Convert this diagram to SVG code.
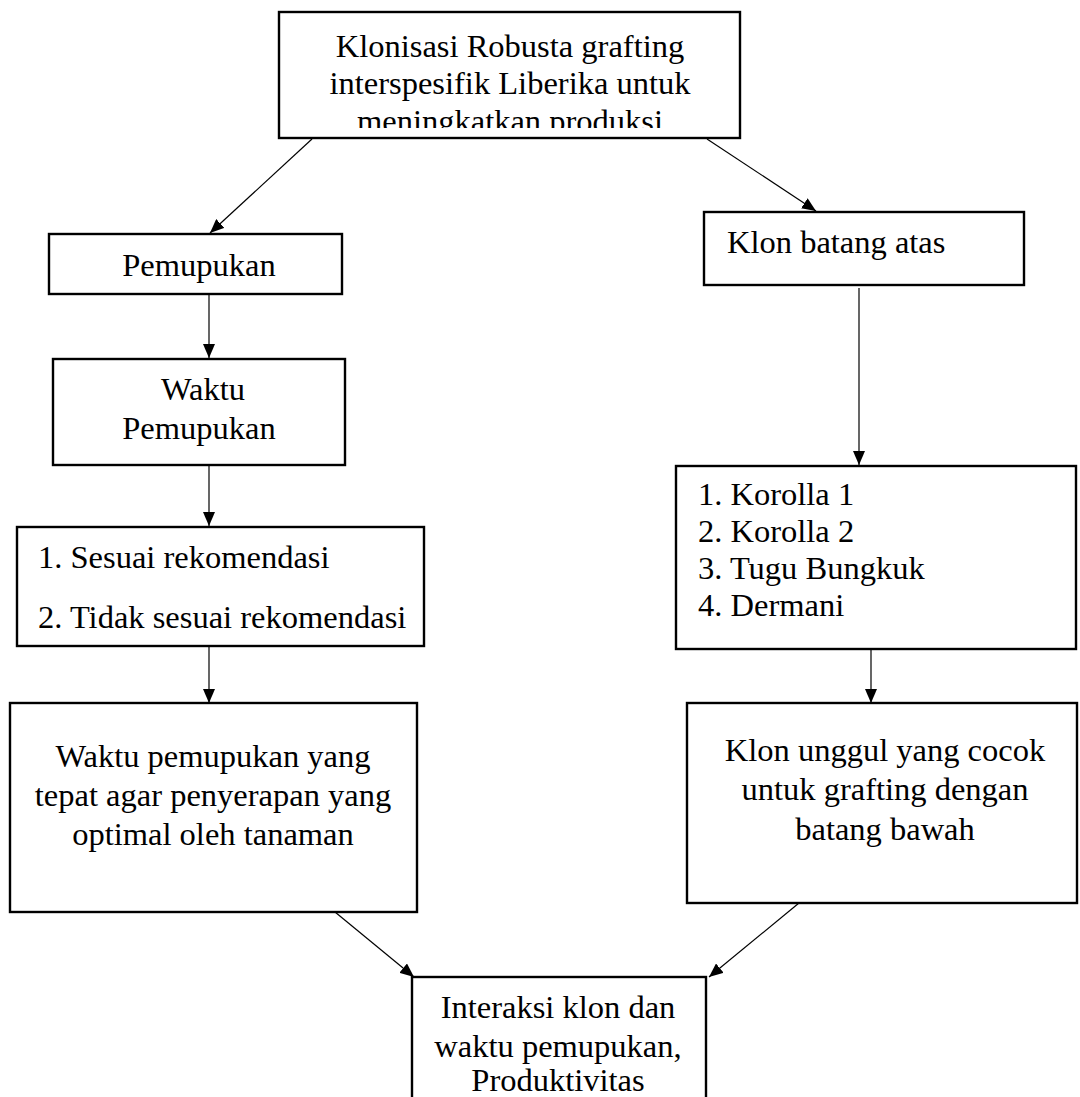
<svg xmlns="http://www.w3.org/2000/svg" width="1080" height="1097" viewBox="0 0 1080 1097">
<style>
.box{fill:#fff;stroke:#000;stroke-width:2.4}
.t{font-family:"Liberation Serif","Times New Roman",serif;font-size:32.5px;fill:#000}
.c{text-anchor:middle}
.conn line{stroke:#000;stroke-width:1.2;marker-end:url(#ah)}
</style>
<defs>
<marker id="ah" viewBox="0 0 14 12" refX="14" refY="6" markerWidth="14" markerHeight="12" markerUnits="userSpaceOnUse" orient="auto">
<path d="M0,0 L14,6 L0,12 Z" fill="#000"/>
</marker>
<clipPath id="topclip"><rect x="280" y="13" width="459" height="115"/></clipPath>
</defs>
<rect width="1080" height="1097" fill="#fff"/>
<g id="connectors" class="conn">
<line x1="312" y1="139" x2="210" y2="233"/>
<line x1="707" y1="139" x2="816" y2="211"/>
<line x1="209" y1="295" x2="209" y2="358"/>
<line x1="209" y1="460" x2="209" y2="526"/>
<line x1="209" y1="641" x2="209" y2="703"/>
<line x1="859" y1="288" x2="859" y2="465"/>
<line x1="871" y1="650" x2="871" y2="703"/>
<line x1="335" y1="912" x2="414" y2="977"/>
<line x1="799" y1="903" x2="709" y2="977"/>
</g>
<g id="n-top">
<rect class="box" x="279" y="12" width="461" height="126"/>
<g clip-path="url(#topclip)">
<text class="t c" x="510" y="57">Klonisasi Robusta grafting</text>
<text class="t c" x="510" y="94">interspesifik Liberika untuk</text>
<text class="t c" x="510" y="132">meningkatkan produksi</text>
</g>
</g>
<g id="n-pemupukan">
<rect class="box" x="49" y="234" width="293" height="60"/>
<text class="t c" x="199" y="276">Pemupukan</text>
</g>
<g id="n-waktu">
<rect class="box" x="53" y="359" width="292" height="106"/>
<text class="t c" x="203" y="400">Waktu</text>
<text class="t c" x="199" y="439">Pemupukan</text>
</g>
<g id="n-sesuai">
<rect class="box" x="17" y="527" width="407" height="119"/>
<text class="t" x="38" y="568">1. Sesuai rekomendasi</text>
<text class="t" x="38" y="628">2. Tidak sesuai rekomendasi</text>
</g>
<g id="n-waktu-tepat">
<rect class="box" x="10" y="703" width="407" height="209"/>
<text class="t c" x="213" y="767">Waktu pemupukan yang</text>
<text class="t c" x="213" y="806">tepat agar penyerapan yang</text>
<text class="t c" x="213" y="845">optimal oleh tanaman</text>
</g>
<g id="n-klon-atas">
<rect class="box" x="704" y="212" width="320" height="73"/>
<text class="t" x="727" y="253">Klon batang atas</text>
</g>
<g id="n-korolla">
<rect class="box" x="676" y="466" width="400" height="183"/>
<text class="t" x="698" y="505">1. Korolla 1</text>
<text class="t" x="698" y="542">2. Korolla 2</text>
<text class="t" x="698" y="579">3. Tugu Bungkuk</text>
<text class="t" x="698" y="616">4. Dermani</text>
</g>
<g id="n-klon-unggul">
<rect class="box" x="687" y="703" width="390" height="200"/>
<text class="t c" x="885" y="761">Klon unggul yang cocok</text>
<text class="t c" x="885" y="800">untuk grafting dengan</text>
<text class="t c" x="885" y="840">batang bawah</text>
</g>
<g id="n-interaksi">
<rect class="box" x="412" y="977" width="294" height="140"/>
<text class="t c" x="558" y="1018">Interaksi klon dan</text>
<text class="t c" x="558" y="1057">waktu pemupukan,</text>
<text class="t c" x="558" y="1091">Produktivitas</text>
</g>
</svg>
